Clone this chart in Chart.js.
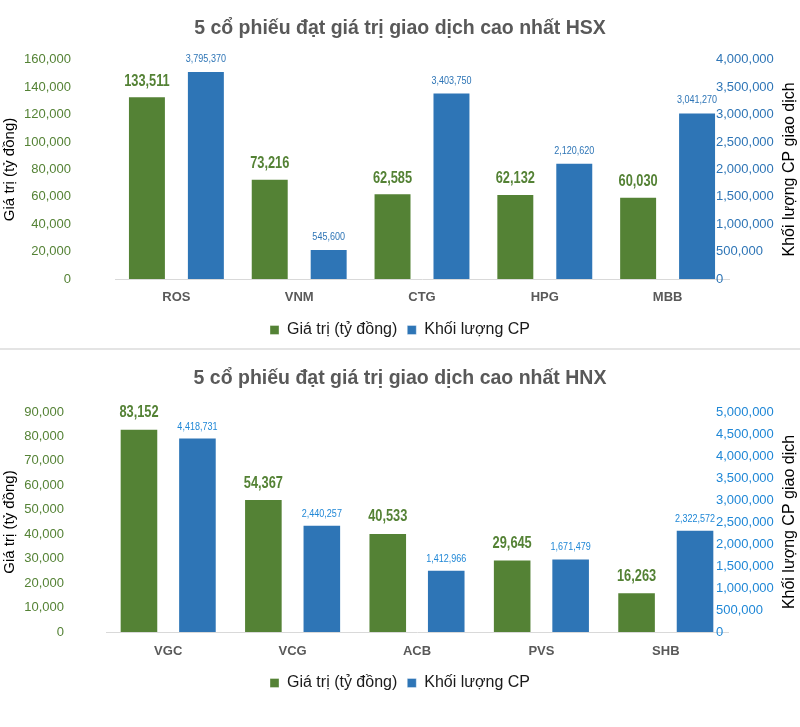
<!DOCTYPE html>
<html>
<head>
<meta charset="utf-8">
<script src="https://cdn.jsdelivr.net/npm/chart.js"></script>
<style>
  body { margin: 0; background: #fff; width: 800px; }
  #top { height: 348px; border-bottom: 2px solid #e4e4e4; }
  #bottom { height: 377px; }
  canvas { display: block; }
</style>
</head>
<body>
<div id="top"><canvas id="hsx" width="800" height="348"></canvas></div>
<div id="bottom"><canvas id="hnx" width="800" height="377"></canvas></div>
<script>
// HSX data
const hsxCodes = ['ROS', 'VNM', 'CTG', 'HPG', 'MBB'];
const hsxValue = [133511, 73216, 62585, 62132, 60030];
const hsxVolume = [3795370, 545600, 3403750, 2120620, 3041270];

// HNX data
const hnxCodes = ['VGC', 'VCG', 'ACB', 'PVS', 'SHB'];
const hnxValue = [83152, 54367, 40533, 29645, 16263];
const hnxVolume = [4418731, 2440257, 1412966, 1671479, 2322572];

// axis ranges
const hsxValueMax = 160000, hsxValueStep = 20000;
const hsxVolumeMax = 4000000, hsxVolumeStep = 500000;
const hnxValueMax = 90000, hnxValueStep = 10000;
const hnxVolumeMax = 5000000, hnxVolumeStep = 500000;

const GREEN = '#548235';
const BLUE = '#2E75B6';
const SANS = "'Liberation Sans', Arial, sans-serif";

const fmt = v => v.toLocaleString('en-US');

// values above bars (squeezed a bit, the original font is narrow)
const barLabels = {
  id: 'barLabels',
  afterDatasetsDraw(chart) {
    const ctx = chart.ctx;
    chart.data.datasets.forEach((ds, i) => {
      const meta = chart.getDatasetMeta(i);
      meta.data.forEach((bar, j) => {
        ctx.save();
        ctx.font = ds.labelFont;
        ctx.fillStyle = ds.labelColor;
        ctx.textAlign = 'center';
        ctx.textBaseline = 'middle';
        ctx.translate(bar.x, bar.y - ds.labelOffset);
        ctx.scale(ds.labelSqueeze, 1);
        ctx.fillText(fmt(ds.data[j]), 0, 0);
        ctx.restore();
      });
    });
  }
};

// right axis: labels sit a little inside the plot, title reads bottom to top
const rightAxis = {
  id: 'rightAxis',
  beforeDraw(chart, args, opts) {
    chart.scales.y1.left = opts.labelX;
  },
  afterDraw(chart, args, opts) {
    const ctx = chart.ctx;
    const a = chart.chartArea;
    ctx.save();
    ctx.translate(opts.titleX, (a.top + a.bottom) / 2);
    ctx.rotate(-Math.PI / 2);
    ctx.font = '16px ' + SANS;
    ctx.fillStyle = '#000';
    ctx.textAlign = 'center';
    ctx.textBaseline = 'middle';
    ctx.fillText(opts.text, 0, 0);
    ctx.restore();
  }
};

function makeChart(id, cfg) {
  return new Chart(document.getElementById(id), {
    type: 'bar',
    data: {
      labels: cfg.codes,
      datasets: [{
        label: 'Giá trị (tỷ đồng)',
        data: cfg.value,
        yAxisID: 'y',
        backgroundColor: GREEN,
        borderColor: 'rgba(255,255,255,0.35)',
        borderWidth: 1,
        categoryPercentage: cfg.cp,
        barPercentage: cfg.bp,
        labelFont: 'bold 16px ' + SANS,
        labelColor: GREEN,
        labelOffset: cfg.greenOff,
        labelSqueeze: 0.8
      }, {
        label: 'Khối lượng CP',
        data: cfg.volume,
        yAxisID: 'y1',
        backgroundColor: BLUE,
        borderColor: 'rgba(255,255,255,0.35)',
        borderWidth: 1,
        categoryPercentage: cfg.cp,
        barPercentage: cfg.bp,
        labelFont: '11px ' + SANS,
        labelColor: cfg.blueTick,
        labelOffset: cfg.blueOff,
        labelSqueeze: 0.82
      }]
    },
    options: {
      responsive: false,
      animation: false,
      events: [],
      layout: { padding: { top: 0, bottom: cfg.padBottom, left: 0, right: 0 } },
      plugins: {
        title: {
          display: true,
          text: cfg.title,
          color: '#595959',
          font: { family: SANS, size: 19.5, weight: 'bold' },
          padding: { top: cfg.titleTop, bottom: cfg.titleBottom }
        },
        legend: {
          position: 'bottom',
          labels: {
            color: '#1a1a1a',
            font: { family: SANS, size: 16 },
            boxWidth: 9,
            boxHeight: 9,
            padding: 10
          }
        },
        tooltip: { enabled: false },
        rightAxis: { text: 'Khối lượng CP giao dịch', titleX: 790, labelX: 716 }
      },
      scales: {
        x: {
          grid: { display: false, drawTicks: false },
          border: { display: true, color: '#d9d9d9', width: 1 },
          ticks: {
            color: '#595959',
            font: { family: SANS, size: 13, weight: 'bold' },
            padding: cfg.xPad
          },
          afterFit: s => { s.height = 33; }
        },
        y: {
          position: 'left',
          min: 0,
          max: cfg.valueMax,
          grid: { display: false, drawTicks: false },
          border: { display: false },
          ticks: {
            stepSize: cfg.valueStep,
            color: GREEN,
            font: { family: SANS, size: 13 },
            padding: cfg.leftPad,
            callback: v => fmt(v)
          },
          title: {
            display: true,
            text: 'Giá trị (tỷ đồng)',
            color: '#000',
            font: { family: SANS, size: 15 },
            padding: { top: 1, bottom: 0 }
          },
          afterFit: s => { s.width = cfg.left; }
        },
        y1: {
          position: 'right',
          min: 0,
          max: cfg.volumeMax,
          grid: { display: false, drawTicks: false },
          border: { display: false },
          ticks: {
            stepSize: cfg.volumeStep,
            color: cfg.blueTick,
            font: { family: SANS, size: 13 },
            padding: 0,
            callback: v => fmt(v)
          },
          afterFit: s => { s.width = 800 - cfg.right; }
        }
      }
    },
    plugins: [barLabels, rightAxis]
  });
}

makeChart('hsx', {
  codes: hsxCodes, value: hsxValue, volume: hsxVolume,
  title: '5 cổ phiếu đạt giá trị giao dịch cao nhất HSX',
  valueMax: hsxValueMax, valueStep: hsxValueStep,
  volumeMax: hsxVolumeMax, volumeStep: hsxVolumeStep,
  left: 115, right: 729, leftPad: 44,
  cp: 0.96, bp: 0.644,
  titleTop: 16.5, titleBottom: 20,
  padBottom: 0, xPad: 11,
  greenOff: 15, blueOff: 12,
  blueTick: BLUE
});

makeChart('hnx', {
  codes: hnxCodes, value: hnxValue, volume: hnxVolume,
  title: '5 cổ phiếu đạt giá trị giao dịch cao nhất HNX',
  valueMax: hnxValueMax, valueStep: hnxValueStep,
  volumeMax: hnxVolumeMax, volumeStep: hnxVolumeStep,
  left: 106, right: 728, leftPad: 42,
  cp: 0.94, bp: 0.66,
  titleTop: 17, titleBottom: 21.6,
  padBottom: 26, xPad: 12,
  greenOff: 16, blueOff: 11,
  blueTick: '#1F87D6'
});
</script>
</body>
</html>
